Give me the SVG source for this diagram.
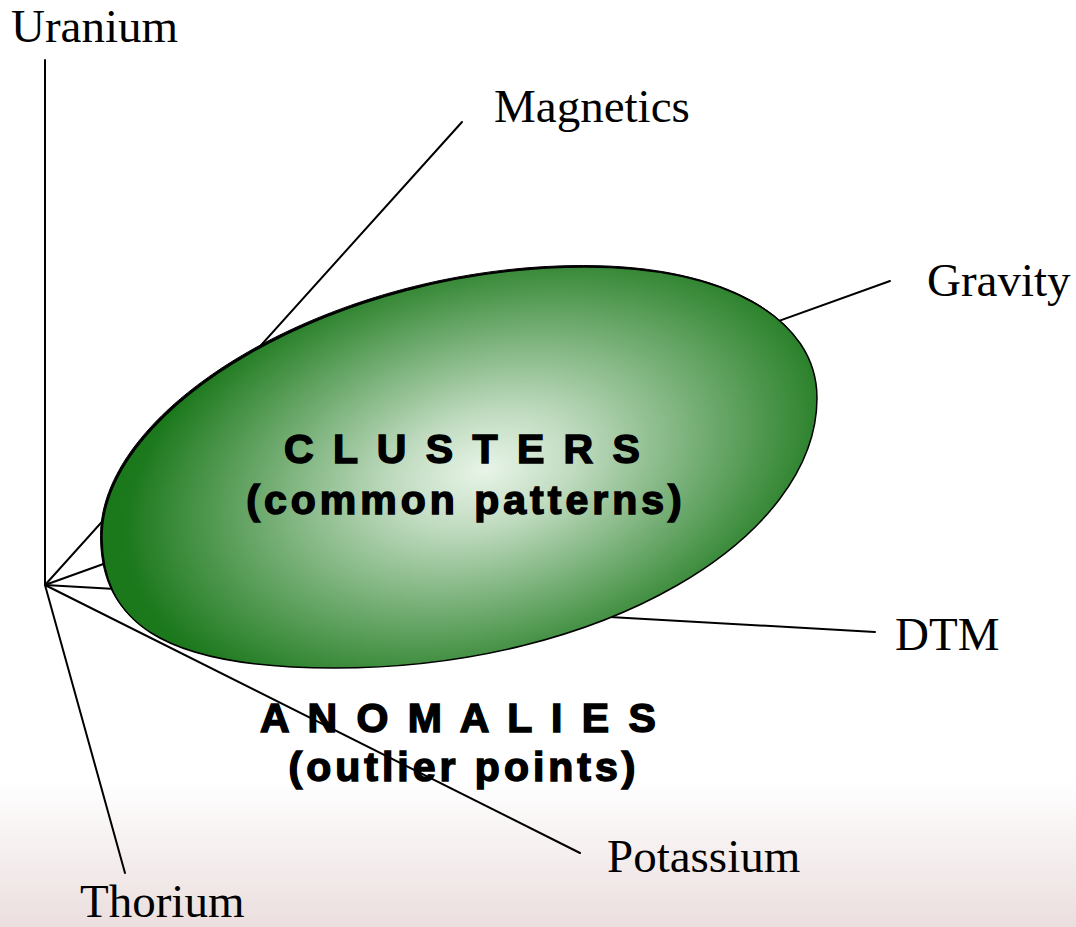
<svg xmlns="http://www.w3.org/2000/svg" width="1076" height="927" viewBox="0 0 1076 927">
<style>
.axis{stroke:#000;stroke-width:2;fill:none;stroke-linecap:round}
.lbl{font-family:"Liberation Serif","Times New Roman",serif;font-size:47px;fill:#000}
.big{font-family:"Liberation Sans",Arial,sans-serif;font-weight:bold;font-size:41px;fill:#000;stroke:#000;stroke-width:1.5;text-anchor:middle}
</style>
<defs>
<linearGradient id="bg" x1="0" y1="0" x2="0" y2="1">
<stop offset="0" stop-color="#ffffff"/>
<stop offset="1" stop-color="#ebdede"/>
</linearGradient>
<radialGradient id="eg" gradientUnits="userSpaceOnUse" cx="485" cy="470" r="370" gradientTransform="translate(485 470) rotate(-15) scale(1 0.6) translate(-485 -470)">
<stop offset="0" stop-color="#e8f4e8"/>
<stop offset="0.25" stop-color="#c0dbc0"/>
<stop offset="1" stop-color="#1b781b"/>
</radialGradient>
<path id="blob" d="M 102,537 C 102,407 335,267 585,267 C 725,267 817,318 817,398 C 817,538 604,668 334,668 C 154,668 102,617 102,537 Z"/>
</defs>
<rect x="0" y="0" width="1076" height="927" fill="#fff"/>
<rect x="0" y="780" width="1076" height="147" fill="url(#bg)"/>
<g id="connectors">
<line class="axis" x1="45" y1="585" x2="45" y2="60"/>
<line class="axis" x1="45" y1="585" x2="462" y2="122"/>
<line class="axis" x1="45" y1="585" x2="890" y2="281"/>
<line class="axis" x1="45" y1="585" x2="875" y2="632"/>
<line class="axis" x1="45" y1="585" x2="580" y2="853"/>
<line class="axis" x1="45" y1="585" x2="125" y2="873"/>
</g>
<g id="cluster">
<use href="#blob" transform="translate(-1.5 -1.5)" fill="#000" stroke="#000" stroke-width="1"/>
<use href="#blob" fill="url(#eg)" stroke="#000" stroke-width="1.5"/>
<text class="big" x="464" y="463" letter-spacing="4">C L U S T E R S</text>
<text class="big" x="466" y="514" letter-spacing="4">(common patterns)</text>
</g>
<g id="anomalies">
<text class="big" x="460" y="732" letter-spacing="4">A N O M A L I E S</text>
<text class="big" x="464" y="781" letter-spacing="4">(outlier points)</text>
</g>
<g id="uranium"><text class="lbl" x="11" y="42" font-size="48">Uranium</text></g>
<g id="magnetics"><text class="lbl" x="494" y="122">Magnetics</text></g>
<g id="gravity"><text class="lbl" x="927" y="296">Gravity</text></g>
<g id="dtm"><text class="lbl" x="895" y="650">DTM</text></g>
<g id="potassium"><text class="lbl" x="607" y="872">Potassium</text></g>
<g id="thorium"><text class="lbl" x="80" y="917" font-size="46">Thorium</text></g>
</svg>
